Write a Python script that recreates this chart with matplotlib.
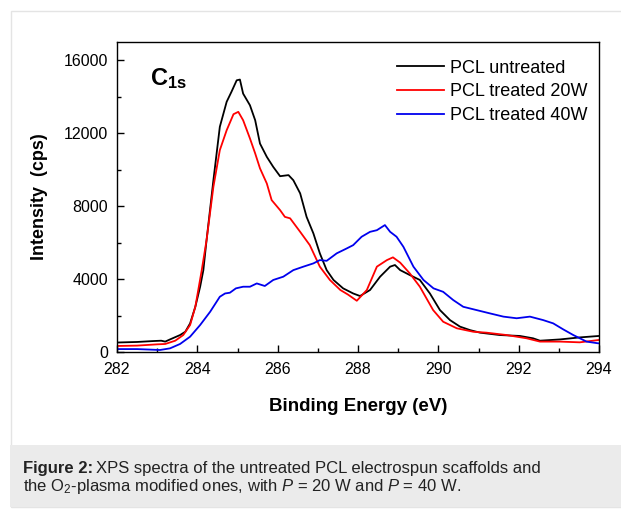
"""XPS C1s spectra of untreated and O2-plasma treated PCL scaffolds."""

import matplotlib

matplotlib.use("Agg")
import matplotlib.pyplot as plt
from matplotlib.patches import Rectangle

plt.rcParams["font.family"] = ["Liberation Sans", "DejaVu Sans"]
plt.rcParams["mathtext.fontset"] = "custom"
plt.rcParams["mathtext.rm"] = "Liberation Sans"
plt.rcParams["mathtext.it"] = "Liberation Sans:italic"
plt.rcParams["mathtext.bf"] = "Liberation Sans:bold"

# binding energy (eV) and intensity (cps)
energy_untreated = [
    282.0, 282.5, 282.9, 283.1, 283.2, 283.32, 283.57, 283.7, 283.82, 283.95,
    284.07, 284.15, 284.23, 284.4, 284.56, 284.73, 284.85, 284.98, 285.06, 285.14,
    285.31, 285.44, 285.56, 285.73, 285.89, 286.06, 286.27, 286.39, 286.56, 286.72,
    286.89, 287.05, 287.22, 287.39, 287.63, 287.88, 288.05, 288.3, 288.55, 288.8,
    288.92, 289.05, 289.29, 289.54, 289.79, 290.04, 290.29, 290.54, 290.79, 291.04,
    291.53, 292.03, 292.36, 292.53, 293.03, 293.52, 294.0,
]
intensity_untreated = [
    520, 550, 600, 620, 570, 690, 930, 1110, 1570, 2480,
    3580, 4490, 6140, 9420, 12350, 13720, 14270, 14900, 14940, 14170,
    13530, 12710, 11430, 10700, 10150, 9640, 9700, 9420, 8700, 7410,
    6500, 5410, 4490, 3950, 3490, 3210, 3070, 3400, 4130, 4680,
    4770, 4490, 4220, 3950, 3210, 2300, 1750, 1390, 1200, 1060,
    930, 880, 750, 620, 690, 800, 880,
]

energy_20w = [
    282.0, 282.5, 283.0, 283.2, 283.45, 283.65, 283.82, 283.95, 284.11, 284.23,
    284.4, 284.56, 284.73, 284.9, 285.02, 285.14, 285.31, 285.44, 285.56, 285.73,
    285.85, 286.06, 286.18, 286.31, 286.56, 286.8, 287.05, 287.3, 287.56, 287.75,
    287.97, 288.22, 288.47, 288.72, 288.87, 289.05, 289.29, 289.54, 289.87, 290.12,
    290.46, 290.87, 291.2, 291.7, 292.2, 292.53, 293.03, 293.52, 294.0,
]
intensity_20w = [
    330, 350, 420, 440, 620, 930, 1480, 2480, 4490, 6140,
    9060, 11070, 12160, 13040, 13170, 12710, 11710, 10890, 10070, 9240,
    8330, 7780, 7410, 7330, 6590, 5860, 4680, 3950, 3400, 3150,
    2810, 3400, 4680, 5040, 5190, 4900, 4310, 3580, 2300, 1660,
    1300, 1110, 1060, 930, 750, 570, 570, 530, 660,
]

energy_40w = [
    282.0, 282.5, 283.07, 283.32, 283.57, 283.82, 284.07, 284.32, 284.56, 284.69,
    284.81, 284.96, 285.14, 285.31, 285.48, 285.68, 285.89, 286.14, 286.39, 286.64,
    286.89, 287.05, 287.22, 287.47, 287.72, 287.88, 288.09, 288.3, 288.47, 288.67,
    288.8, 288.96, 289.13, 289.38, 289.63, 289.88, 290.12, 290.37, 290.62, 290.95,
    291.28, 291.62, 291.95, 292.28, 292.61, 292.86, 293.11, 293.36, 293.69, 294.0,
]
intensity_40w = [
    160, 160, 110, 200, 440, 840, 1480, 2210, 3030, 3210,
    3250, 3490, 3580, 3580, 3760, 3620, 3950, 4130, 4490, 4680,
    4860, 5040, 5000, 5410, 5680, 5860, 6320, 6590, 6680, 6960,
    6590, 6320, 5770, 4680, 3950, 3490, 3300, 2850, 2480, 2300,
    2120, 1940, 1850, 1940, 1750, 1570, 1240, 930, 570, 470,
]

series_labels = ["PCL untreated", "PCL treated 20W", "PCL treated 40W"]
series_colors = ["black", "#ff0000", "#0000ee"]

W, H = 621, 509
fig = plt.figure(figsize=(W / 100, H / 100), dpi=100)

# page frame and caption panel
fig.patches.append(Rectangle((10.5 / W, 1 - 507 / H), 1.0, (507 - 10.5) / H,
                             transform=fig.transFigure, fill=False,
                             edgecolor="#e4e4e4", linewidth=1.0))
fig.patches.append(Rectangle((10 / W, 1 - 507 / H), 1.0, (507 - 445) / H,
                             transform=fig.transFigure, facecolor="#ebebeb",
                             edgecolor="none"))

ax = fig.add_axes([117 / W, 1 - 352 / H, (599 - 117) / W, (352 - 42) / H])
for energy, intensity, label, color in zip(
    [energy_untreated, energy_20w, energy_40w],
    [intensity_untreated, intensity_20w, intensity_40w],
    series_labels,
    series_colors,
):
    ax.plot(energy, intensity, color=color, linewidth=1.3, label=label)

ax.set_xlim(282, 294)
ax.set_ylim(0, 17000)
ax.set_xticks(range(282, 295, 2))
ax.set_xticks(range(283, 294, 2), minor=True)
ax.set_yticks(range(0, 16001, 4000))
ax.set_yticks(range(2000, 16001, 4000), minor=True)
ax.tick_params(which="both", direction="in", labelsize=11.5, width=1.0)
ax.tick_params(axis="y", pad=6.5)
ax.tick_params(axis="x", pad=7.5)
ax.tick_params(which="major", length=5)
ax.tick_params(which="minor", length=3)
for spine in ax.spines.values():
    spine.set_linewidth(1.0)

ax.set_xlabel("Binding Energy (eV)", fontsize=13.5, fontweight="bold", labelpad=15)
ax.set_ylabel("Intensity  (cps)", fontsize=13, fontweight="bold", labelpad=11)

ax.text(0.068, 0.86, r"$\mathbf{C_{1s}}$", transform=ax.transAxes, fontsize=17)

ax.legend(loc="upper right", bbox_to_anchor=(1.006, 0.99), frameon=False,
          fontsize=13, handlelength=2.6, handletextpad=0.35, labelspacing=0.38,
          borderaxespad=0.4)

# caption: bold lead-in, then the rest placed right after it
cap_x, cap_y1, cap_y2 = 23 / W, 1 - 469 / H, 1 - 487 / H
lead = fig.text(cap_x, cap_y1, "Figure 2:", fontsize=12, fontweight="bold",
                va="center", color="#222222")
renderer = fig.canvas.get_renderer()
lead_end = lead.get_window_extent(renderer).x1 / W
fig.text(lead_end + 3 / W, cap_y1,
         "XPS spectra of the untreated PCL electrospun scaffolds and",
         fontsize=12, va="center", color="#222222")
fig.text(cap_x, cap_y2,
         r"the O$_2$-plasma modified ones, with $P$ = 20 W and $P$ = 40 W.",
         fontsize=12, va="center", color="#222222")

fig.savefig("out.png", dpi=100)
